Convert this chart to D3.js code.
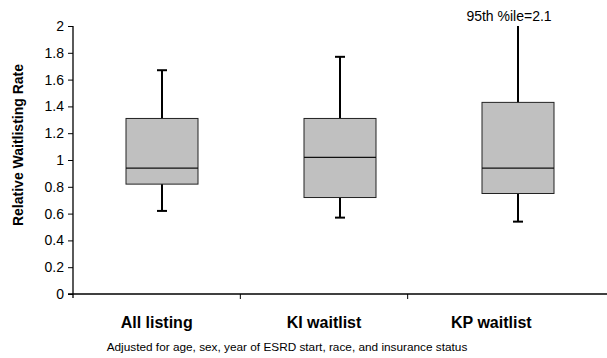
<!DOCTYPE html>
<html>
<head>
<meta charset="utf-8">
<script src="https://cdn.jsdelivr.net/npm/d3@7"></script>
<style>
  html, body { margin: 0; padding: 0; background: #fff; }
  svg { display: block; font-family: "Liberation Sans", Arial, sans-serif; }
</style>
</head>
<body>
<svg id="chart" width="607" height="358"></svg>
<script>
// Relative waitlisting rate by listing type (box = IQR, line = median, whiskers = 5th–95th)
const categories = ["All listing", "KI waitlist", "KP waitlist"];
const whiskerLow  = [0.62, 0.57, 0.54];
const q1          = [0.82, 0.72, 0.75];
const median      = [0.94, 1.02, 0.94];
const q3          = [1.31, 1.31, 1.43];
const whiskerHigh = [1.67, 1.77, 2.1];
const yTicks = [0, 0.2, 0.4, 0.6, 0.8, 1, 1.2, 1.4, 1.6, 1.8, 2];
const yLabel = "Relative Waitlisting Rate";
const footnote = "Adjusted for age, sex, year of ESRD start, race, and insurance status";
const capNote = "95th %ile=2.1";

const svg = d3.select("#chart");
const x0 = 73, x1 = 607, yTop = 26, yBottom = 294;

const y = d3.scaleLinear().domain([0, 2]).range([yBottom, yTop]);
const yc = v => y(Math.min(v, 2));

// category bands for boxes and for the axis labels
const xBox = d3.scaleBand().domain(categories).range([x0, x1]);
const xLab = d3.scaleBand().domain(categories).range([x0, 575]);

// y axis
const yAxis = svg.append("g")
  .attr("transform", `translate(${x0},0)`)
  .call(d3.axisLeft(y).tickValues(yTicks).tickSize(5).tickPadding(4)
    .tickFormat(d => d3.format("")(d)));
yAxis.select(".domain").attr("stroke", "#000").attr("stroke-width", 1.3)
  .attr("d", `M0,${yTop}V${yBottom + 4}`);
yAxis.selectAll(".tick line").attr("stroke", "#000");
yAxis.selectAll(".tick text").attr("fill", "#000").attr("font-size", 14)
  .attr("font-family", "Liberation Sans, Arial, sans-serif");

// x axis line with separators between categories
svg.append("line").attr("x1", x0 - 5).attr("x2", x1)
  .attr("y1", yBottom).attr("y2", yBottom)
  .attr("stroke", "#000").attr("stroke-width", 1.3);
svg.selectAll(".xsep").data(categories.slice(1)).enter().append("line")
  .attr("x1", d => xLab(d)).attr("x2", d => xLab(d))
  .attr("y1", yBottom).attr("y2", yBottom + 5)
  .attr("stroke", "#000");

svg.selectAll(".xlab").data(categories).enter().append("text")
  .attr("x", d => xLab(d) + xLab.bandwidth() / 2)
  .attr("y", 328)
  .attr("text-anchor", "middle")
  .attr("font-size", 16).attr("font-weight", "bold")
  .text(d => d);

// y axis title
svg.append("text")
  .attr("transform", `translate(23,145) rotate(-90)`)
  .attr("text-anchor", "middle")
  .attr("font-size", 14).attr("font-weight", "bold")
  .text(yLabel);

// footnote
svg.append("text").attr("x", 287).attr("y", 351)
  .attr("text-anchor", "middle").attr("font-size", 11.8)
  .text(footnote);

// boxes
const boxW = 72, capW = 10;
const g = svg.selectAll(".box").data(categories).enter().append("g")
  .attr("transform", d => `translate(${xBox(d) + xBox.bandwidth() / 2},0)`);

g.append("line").attr("x1", 0).attr("x2", 0)
  .attr("y1", (d, i) => yc(whiskerHigh[i])).attr("y2", (d, i) => y(q3[i]))
  .attr("stroke", "#000").attr("stroke-width", 2);
g.append("line").attr("x1", 0).attr("x2", 0)
  .attr("y1", (d, i) => y(q1[i])).attr("y2", (d, i) => y(whiskerLow[i]))
  .attr("stroke", "#000").attr("stroke-width", 2);
// caps (no top cap where the whisker runs off the axis)
g.filter((d, i) => whiskerHigh[i] <= 2).append("line")
  .attr("x1", -capW / 2).attr("x2", capW / 2)
  .attr("y1", d => y(whiskerHigh[categories.indexOf(d)]))
  .attr("y2", d => y(whiskerHigh[categories.indexOf(d)]))
  .attr("stroke", "#000").attr("stroke-width", 2);
g.append("line").attr("x1", -capW / 2).attr("x2", capW / 2)
  .attr("y1", (d, i) => y(whiskerLow[i])).attr("y2", (d, i) => y(whiskerLow[i]))
  .attr("stroke", "#000").attr("stroke-width", 2);

g.append("rect")
  .attr("x", -boxW / 2).attr("width", boxW)
  .attr("y", (d, i) => y(q3[i]))
  .attr("height", (d, i) => y(q1[i]) - y(q3[i]))
  .attr("fill", "#c0c0c0").attr("stroke", "#222").attr("stroke-width", 1);
g.append("line").attr("x1", -boxW / 2).attr("x2", boxW / 2)
  .attr("y1", (d, i) => y(median[i])).attr("y2", (d, i) => y(median[i]))
  .attr("stroke", "#111").attr("stroke-width", 1.3);

// note for the clipped whisker
const over = categories.filter((d, i) => whiskerHigh[i] > 2);
svg.selectAll(".note").data(over).enter().append("text")
  .attr("x", d => xBox(d) + xBox.bandwidth() / 2 - 9)
  .attr("y", 21).attr("text-anchor", "middle")
  .attr("font-size", 14)
  .text(capNote);
</script>
</body>
</html>
